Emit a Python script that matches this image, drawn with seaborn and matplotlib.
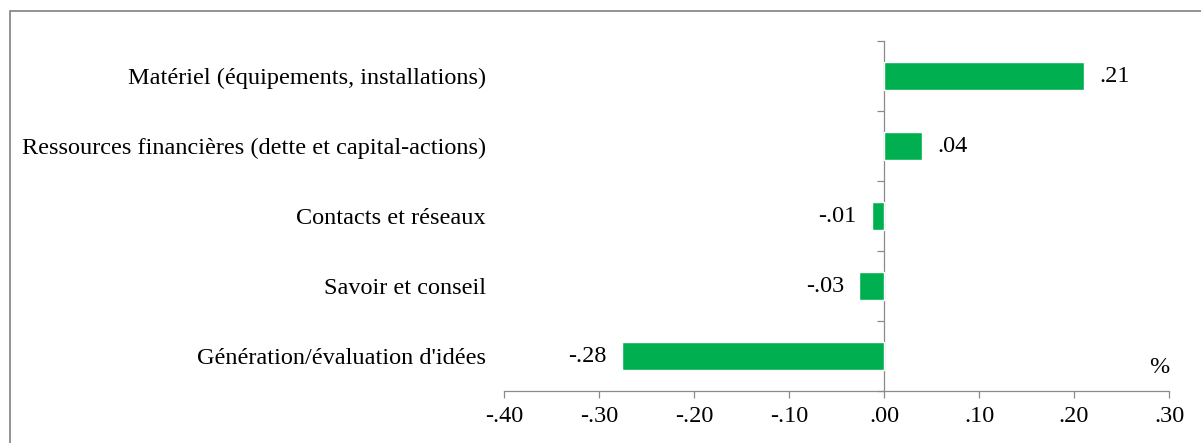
import numpy as np
import pandas as pd
import matplotlib
matplotlib.use("Agg")
import matplotlib.pyplot as plt
from matplotlib.patches import Rectangle
from matplotlib.ticker import FuncFormatter
import seaborn as sns

# Change in share by type of resource
categories = [
    "Matériel (équipements, installations)",
    "Ressources financières (dette et capital-actions)",
    "Contacts et réseaux",
    "Savoir et conseil",
    "Génération/évaluation d'idées",
]
values = [0.211, 0.04, -0.013, -0.026, -0.276]
x_ticks = [-0.40, -0.30, -0.20, -0.10, 0.00, 0.10, 0.20, 0.30]
unit_label = "%"

GREEN = "#00B050"
GRAY = "#8a8a8a"
W, H = 1201, 443
FS = 17.5

sns.set_theme(style="white")
plt.rcParams["font.family"] = ["Liberation Serif", "DejaVu Serif"]
plt.rcParams["text.color"] = "black"

fig = plt.figure(figsize=(W / 100, H / 100), dpi=100)
ax = fig.add_axes([504 / W, 52 / H, 665 / W, 350 / H])

df = pd.DataFrame({"categorie": categories, "valeur": values})
sns.barplot(data=df, x="valeur", y="categorie", orient="h", color=GREEN,
            saturation=1, width=0.4, ax=ax)

def short_num(v, _pos=None):
    return f"{v:.2f}".replace("0.", ".", 1)

ax.bar_label(ax.containers[0], labels=[short_num(v) for v in values],
             padding=11, fontsize=FS, color="black")

ax.set_xlim(x_ticks[0], x_ticks[-1])
ax.set_xticks(x_ticks)
ax.xaxis.set_major_formatter(FuncFormatter(short_num))
ax.set_xlabel("")
ax.set_ylabel("")

for side in ["top", "right", "left"]:
    ax.spines[side].set_visible(False)
ax.spines["bottom"].set_color(GRAY)
ax.spines["bottom"].set_linewidth(0.9)

ax.tick_params(axis="x", direction="out", length=5, width=0.9, color=GRAY,
               pad=6, labelsize=FS, labelcolor="black", bottom=True)
ax.tick_params(axis="y", length=0, pad=13, labelsize=FS, labelcolor="black")

# Vertical axis line at zero with category separators
sec = ax.secondary_yaxis(0, transform=ax.transData)
sec.set_yticks(np.arange(len(categories) + 1) - 0.5)
sec.set_yticklabels([])
sec.spines["left"].set_color(GRAY)
sec.spines["left"].set_linewidth(0.9)
sec.tick_params(direction="out", length=5, width=0.9, color=GRAY)

ax.text(0.986, 0.066, unit_label, transform=ax.transAxes, ha="center",
        va="center", fontsize=FS, color="black")

# Chart frame
fig.add_artist(Rectangle((10 / W, -0.2), 2, 1.2 - 11 / H, transform=fig.transFigure,
                         fill=False, edgecolor=GRAY, linewidth=1.3))

fig.savefig("out.png", dpi=100, facecolor="white")
